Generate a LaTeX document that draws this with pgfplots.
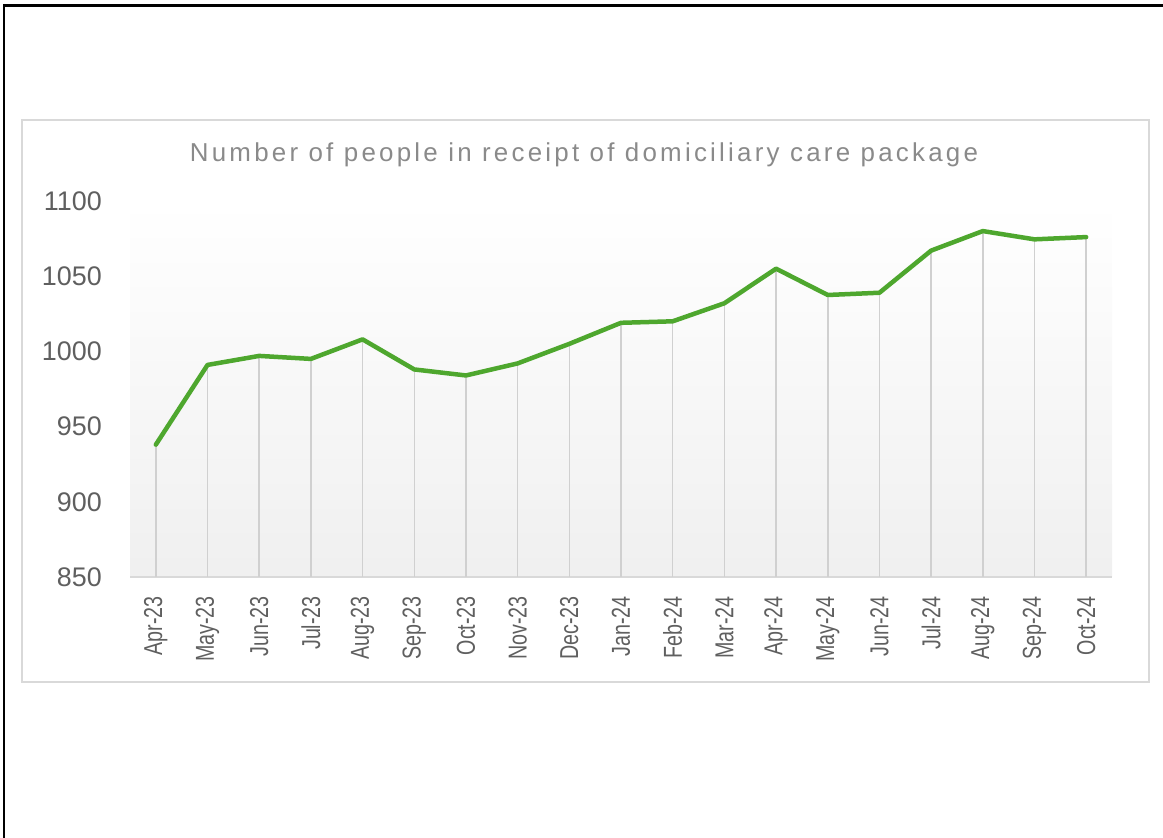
\documentclass[border=0pt]{standalone}
\usepackage{graphicx}
\usepackage{fontspec}
\setmainfont{Liberation Sans}
\newfontfamily\titlefont[LetterSpace=12.5]{Liberation Sans}
\usepackage{pgfplots}
\pgfplotsset{compat=1.18}
\definecolor{linegreen}{HTML}{4EA72E}
\definecolor{titlegray}{HTML}{8A8A8A}
\definecolor{labelgray}{HTML}{5F5F5F}
\definecolor{dropgray}{HTML}{D0D0D0}
\definecolor{framegray}{HTML}{D9D9D9}
\newcommand\sq[1]{\scalebox{0.76}[1]{#1}}
\begin{document}
\begin{tikzpicture}[x=1bp,y=1bp]
\path[use as bounding box] (0,0) rectangle (1163,838);
\draw[black, line width=2.5bp] (3,832.5) -- (1163,832.5);
\draw[black, line width=2.5bp] (4,834) -- (4,0);
\draw[framegray, line width=2bp] (22,718) rectangle (1149,156);
\node[font=\fontsize{26}{26}\selectfont\titlefont, text=titlegray, inner sep=0pt] at (584,683) {Number of people in receipt of domiciliary care package};
\begin{axis}[
  at={(130bp,261bp)}, anchor=south west,
  scale only axis, width=982bp, height=376bp,
  xmin=-0.5, xmax=18.5, ymin=850, ymax=1100,
  axis background/.style={top color=white, bottom color=black!6},
  axis x line*=bottom, axis y line*=left,
  x axis line style={framegray, line width=1.5bp, -},
  y axis line style={draw=none},
  major tick length=0pt,
  tick style={draw=none},
  ytick={850,900,...,1100},
  xtick={0,...,18},
  xticklabels={\sq{Apr-23},\sq{May-23},\sq{Jun-23},\sq{Jul-23},\sq{Aug-23},\sq{Sep-23},\sq{Oct-23},\sq{Nov-23},\sq{Dec-23},\sq{Jan-24},\sq{Feb-24},\sq{Mar-24},\sq{Apr-24},\sq{May-24},\sq{Jun-24},\sq{Jul-24},\sq{Aug-24},\sq{Sep-24},\sq{Oct-24}},
  xticklabel style={rotate=90, anchor=east, inner sep=0pt, font=\fontsize{26}{26}\selectfont, text=labelgray},
  yticklabel style={anchor=east, inner sep=0pt, font=\fontsize{27}{27}\selectfont, text=labelgray},
  xticklabel shift=19bp,
  yticklabel shift=28bp,
  /pgf/number format/assume math mode=true,
  /pgf/number format/1000 sep={},
  grid=none,
]
\addplot[ycomb, dropgray, line width=1.5bp, mark=none] coordinates {
(0,938) (1,991) (2,997) (3,995) (4,1008) (5,988) (6,984) (7,992) (8,1005) (9,1019) (10,1020) (11,1032) (12,1055) (13,1037.5) (14,1039) (15,1067) (16,1080) (17,1074.5) (18,1076)
};
\addplot[linegreen, line width=4.5bp, mark=none, line join=round, line cap=round] coordinates {
(0,938) (1,991) (2,997) (3,995) (4,1008) (5,988) (6,984) (7,992) (8,1005) (9,1019) (10,1020) (11,1032) (12,1055) (13,1037.5) (14,1039) (15,1067) (16,1080) (17,1074.5) (18,1076)
};
\end{axis}
\end{tikzpicture}
\end{document}
